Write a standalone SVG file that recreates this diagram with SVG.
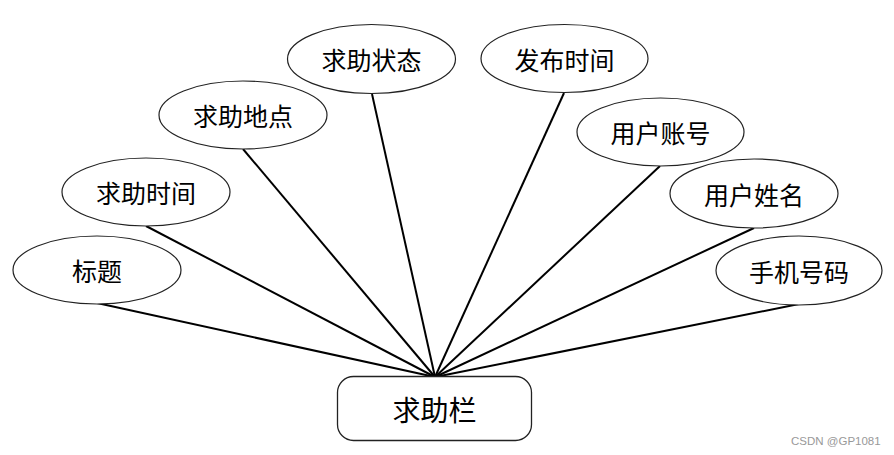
<svg xmlns="http://www.w3.org/2000/svg" width="894" height="455" viewBox="0 0 894 455">
<style>
.attr{fill:#fff;stroke:#222;stroke-width:1.2}
.ent{fill:#fff;stroke:#222;stroke-width:1.3}
.lbl{font-family:"Noto Sans CJK SC","Liberation Serif",serif;font-size:25px;fill:#000;text-anchor:middle;dominant-baseline:central}
.big{font-size:28px}
.conn line{stroke:#000;stroke-width:2}
.wm{font-family:"Liberation Sans",sans-serif;font-size:11.5px;fill:#999}
</style>
<rect width="894" height="455" fill="#fff"/>
<g id="connectors" class="conn">
<line x1="97" y1="303" x2="435" y2="377"/>
<line x1="146" y1="226" x2="435" y2="377"/>
<line x1="243" y1="149" x2="435" y2="377"/>
<line x1="372" y1="94" x2="435" y2="377"/>
<line x1="564" y1="93" x2="435" y2="377"/>
<line x1="660" y1="166" x2="435" y2="377"/>
<line x1="754" y1="228" x2="435" y2="377"/>
<line x1="799" y1="304" x2="435" y2="377"/>
</g>
<g id="n-biaoti"><ellipse class="attr" cx="97" cy="270" rx="84" ry="34"/><text class="lbl" x="97" y="270">标题</text></g>
<g id="n-qiuzhushijian"><ellipse class="attr" cx="146" cy="192" rx="84" ry="34"/><text class="lbl" x="146" y="192">求助时间</text></g>
<g id="n-qiuzhudidian"><ellipse class="attr" cx="243" cy="115" rx="84" ry="34"/><text class="lbl" x="243" y="115">求助地点</text></g>
<g id="n-qiuzhuzhuangtai"><ellipse class="attr" cx="371.5" cy="59" rx="84" ry="34.5"/><text class="lbl" x="371.5" y="59">求助状态</text></g>
<g id="n-fabushijian"><ellipse class="attr" cx="564.5" cy="58.5" rx="83.5" ry="34"/><text class="lbl" x="564.5" y="58.5">发布时间</text></g>
<g id="n-yonghuzhanghao"><ellipse class="attr" cx="660.5" cy="132" rx="83.5" ry="34"/><text class="lbl" x="660.5" y="132">用户账号</text></g>
<g id="n-yonghuxingming"><ellipse class="attr" cx="754" cy="193.5" rx="84" ry="34.5"/><text class="lbl" x="754" y="193.5">用户姓名</text></g>
<g id="n-shoujihaoma"><ellipse class="attr" cx="799" cy="270.5" rx="83" ry="34.5"/><text class="lbl" x="799" y="270.5">手机号码</text></g>
<g id="n-qiuzhulan"><rect class="ent" x="337.5" y="376.5" width="194" height="64" rx="16" ry="16"/><text class="lbl big" x="434.5" y="408.5">求助栏</text></g>
<text class="wm" x="791" y="445">CSDN @GP1081</text>
</svg>
